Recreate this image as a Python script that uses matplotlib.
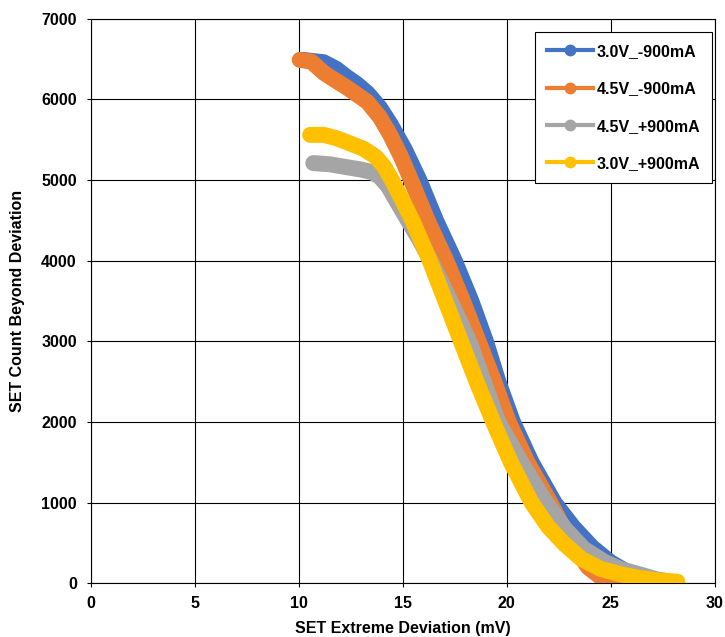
import matplotlib
matplotlib.use("Agg")
import matplotlib.pyplot as plt
from matplotlib.lines import Line2D

plt.rcParams['font.family'] = ['Liberation Sans', 'DejaVu Sans']
plt.rcParams['font.weight'] = 'bold'

# series (x = deviation in mV, y = count)
labels = ["3.0V_-900mA", "4.5V_-900mA", "4.5V_+900mA", "3.0V_+900mA"]
colors = ["#4472C4", "#ED7D31", "#A5A5A5", "#FFC000"]

x_30n = [10.2, 11.2, 11.8, 12.3, 12.8, 13.3, 13.9, 14.4, 15.1, 15.8, 16.6, 17.5, 18.3,
         19.0, 19.6, 20.3, 21.2, 22.3, 23.2, 24.1, 25.0, 26.0, 27.0, 28.0]
y_30n = [6490, 6460, 6380, 6280, 6190, 6080, 5900, 5700, 5380, 5000, 4500, 4000, 3500,
         3000, 2500, 2000, 1500, 1000, 700, 450, 260, 110, 40, 10]

x_45n = [10.05, 10.6, 11.2, 11.8, 12.3, 13.3, 13.9, 14.4, 14.9, 15.4, 16.2, 17.1, 17.9, 18.65,
         19.4, 20.1, 21.0, 22.1, 23.0, 23.9, 24.6, 25.3, 26.0, 27.0]
y_45n = [6490, 6470, 6330, 6230, 6150, 5970, 5780, 5560, 5300, 5000, 4500, 4000, 3500, 3000,
         2500, 2000, 1500, 1000, 550, 200, 60, 15, 0, 0]

x_45p = [10.7, 11.5, 12.3, 13.0, 13.5, 13.9, 14.3, 14.7, 15.2, 15.8, 16.35, 17.3, 18.2, 18.9,
         19.6, 20.7, 21.9, 22.8, 23.7, 24.7, 25.5, 26.4, 27.2, 28.0]
y_45p = [5210, 5195, 5160, 5130, 5100, 5040, 4920, 4740, 4520, 4260, 4000, 3500, 3000, 2500,
         2000, 1500, 1000, 680, 430, 265, 175, 110, 50, 15]

x_30p = [10.55, 11.2, 11.8, 12.5, 13.1, 13.7, 14.1, 14.5, 15.0, 15.5, 16.3, 17.05, 17.8, 18.55,
         19.35, 20.2, 21.2, 22.0, 22.8, 23.6, 24.5, 25.5, 26.4, 27.3, 28.2]
y_30p = [5560, 5560, 5520, 5450, 5390, 5290, 5170, 4990, 4740, 4480, 4000, 3500, 3000, 2500,
         2000, 1500, 1000, 700, 480, 300, 180, 110, 65, 35, 20]

series = [(x_30n, y_30n), (x_45n, y_45n), (x_45p, y_45p), (x_30p, y_30p)]

fig = plt.figure(figsize=(7.25, 6.37), dpi=100)
ax = fig.add_axes([0.1251, 0.0843, 0.8607, 0.8863])

for (xs, ys), c, lab in zip(series, colors, labels):
    ax.plot(xs, ys, color=c, lw=11.5, solid_capstyle='round', solid_joinstyle='round',
            label=lab, zorder=3)

ax.set_xlim(0, 30)
ax.set_ylim(0, 7000)
ax.set_xticks(range(0, 31, 5))
ax.set_yticks(range(0, 7001, 1000))
ax.grid(True, color='black', lw=0.8)
ax.set_axisbelow(True)
for s in ax.spines.values():
    s.set_color('black')
    s.set_linewidth(0.8)
ax.tick_params(direction='out', length=3, width=0.8, labelsize=11.5, color='black')
ax.tick_params(axis='y', pad=7)
ax.tick_params(axis='x', pad=6)

fig.text(402.7 / 725, 1 - 628 / 637, "SET Extreme Deviation (mV)", ha='center', va='center',
         fontsize=11.5, fontweight='bold')
fig.text(18 / 725, 1 - 301 / 637, "SET Count Beyond Deviation", ha='center', va='center',
         rotation=90, fontsize=11.5, fontweight='bold')

handles = [Line2D([0], [0], color=c, lw=3, marker='o', ms=7.5) for c in colors]
leg = ax.legend(handles, labels, loc='upper right', bbox_to_anchor=(0.9957, 0.9765),
                borderaxespad=0, fancybox=False, edgecolor='black', framealpha=1,
                fontsize=11.5, labelspacing=1.4, handlelength=2.9, handletextpad=0.2,
                borderpad=0.75)
leg.get_frame().set_linewidth(0.8)
leg.set_zorder(5)

fig.savefig("out.png", dpi=100)
